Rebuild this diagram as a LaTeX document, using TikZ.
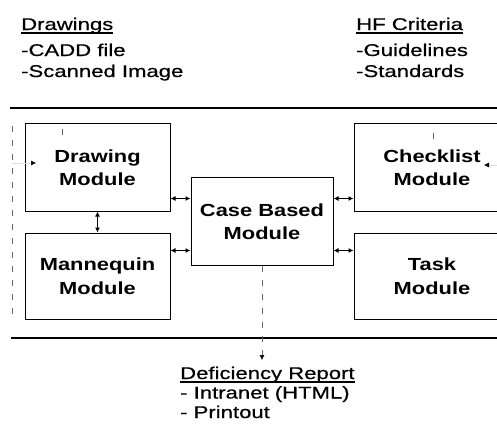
\documentclass[tikz,border=0pt]{standalone}
\usepackage{fontspec}
\setmainfont{Liberation Sans}[FakeStretch=1.25]
\newfontfamily\hdfont{Liberation Sans}[FakeStretch=1.3, FakeBold=0.6]
\usetikzlibrary{arrows.meta}

% sottolineatura dei titoli
\newsavebox{\hdbox}
\newcommand{\hdul}[1]{\sbox{\hdbox}{#1}\rlap{\rule[-3.5pt]{\wd\hdbox}{1.4pt}}\usebox{\hdbox}}

\begin{document}
\begin{tikzpicture}[x=1pt, y=-1pt,
    modulo/.style={draw, line width=1pt, align=center, font=\bfseries\fontsize{17.5}{23.5}\selectfont},
    testo/.style={anchor=north west, inner sep=0pt, align=left, font=\hdfont\fontsize{17}{21}\selectfont},
    biarr/.style={{Latex[length=5pt,width=5pt]}-{Latex[length=5pt,width=5pt]}, line width=1pt},
    tenue/.style={black!60, line width=0.6pt, dash pattern=on 6pt off 8pt},
    punta/.style={-{Latex[length=5pt,width=5pt,black]}}]

    \useasboundingbox (0,0) rectangle (497,430);
    \clip (0,0) rectangle (497,430);

    % =========================================
    % === Ingressi (in alto) ===
    % =========================================
    \node[testo] (drwtxt) at (21,17.5) {\hdul{Drawings}\\[5pt] -CADD file\\ -Scanned Image};
    \node[testo] (hftxt) at (356,17.5) {\hdul{HF Criteria}\\[5pt] -Guidelines\\ -Standards};

    % Linee di separazione
    \draw[line width=1.2pt] (10,108) -- (497,108);
    \draw[line width=1.2pt] (11,338) -- (497,338);

    % =========================================
    % === Moduli ===
    % =========================================
    \node[modulo, minimum width=145pt, minimum height=87pt] (drw) at (97.5,167.5) {Drawing\\Module};
    \node[modulo, minimum width=145pt, minimum height=86pt] (man) at (97.5,276) {Mannequin\\Module};
    \node[modulo, minimum width=142pt, minimum height=87pt] (cbm) at (262,221.5) {Case Based\\Module};
    \node[modulo, minimum width=156pt, minimum height=87pt] (chk) at (432,167.5) {Checklist\\Module};
    \node[modulo, minimum width=156pt, minimum height=86pt] (tsk) at (432,276) {Task\\Module};

    % Frecce doppie tra i moduli
    \coordinate (a1) at ([yshift=13pt]drw.south east);
    \coordinate (a2) at ([yshift=-18pt]man.north east);
    \draw[biarr] (a1) -- (a1 -| cbm.west);
    \draw[biarr] (a2) -- (a2 -| cbm.west);
    \draw[biarr] (a1 -| cbm.east) -- (a1 -| chk.west);
    \draw[biarr] (a2 -| cbm.east) -- (a2 -| tsk.west);
    \draw[biarr] (drw) -- (man);

    % Collegamenti tenui (ingressi)
    \coordinate (sx) at (12,163);
    \coordinate (sxe) at (36,163);
    \coordinate (dx) at (497,165);
    \coordinate (dxe) at (484,165);
    \draw[tenue] (12,126) -- (12,320);
    \draw[gray!25, line width=0.5pt, punta] (sx) -- (sxe);
    \draw[gray!25, line width=0.5pt, punta] (dx) -- (dxe);
    \draw[tenue] (62,129) -- (62,137);
    \draw[tenue] (433,133) -- (433,141);

    % =========================================
    % === Uscita (in basso) ===
    % =========================================
    \node[testo, font=\hdfont\fontsize{17}{19.5}\selectfont] (deftxt) at (180,366.5) {\hdul{Deficiency Report}\\ - Intranet (HTML)\\ - Printout};
    \draw[tenue, punta, shorten >=6.5pt] (cbm.south) -- (cbm.south |- deftxt.north);

\end{tikzpicture}
\end{document}
